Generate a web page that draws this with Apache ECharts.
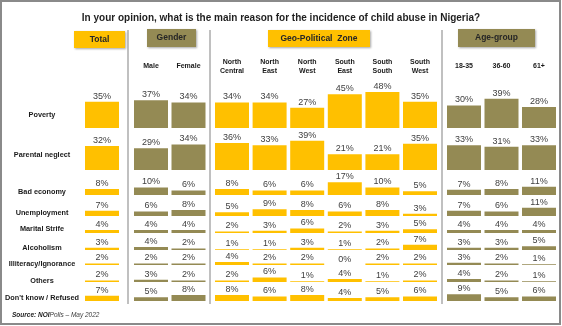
<!DOCTYPE html>
<html>
<head>
<meta charset="utf-8">
<script src="https://cdn.jsdelivr.net/npm/echarts@6/dist/echarts.min.js"></script>
<style>
  html, body { margin: 0; padding: 0; background: #ffffff; }
  #chart { width: 562px; height: 326px; }
</style>
</head>
<body>
<div id="chart"></div>
<script>
// Survey answers (% of respondents) for each reason, by segment
const reasons = ['Poverty', 'Parental neglect', 'Bad economy', 'Unemployment', 'Marital Strife',
  'Alcoholism', 'Illiteracy/Ignorance', 'Others', "Don't know / Refused"];

const total        = [35, 32, 8, 7, 4, 3, 2, 2, 7];
const male         = [37, 29, 10, 6, 4, 4, 2, 3, 5];
const female       = [34, 34, 6, 8, 4, 2, 2, 2, 8];
const northCentral = [34, 36, 8, 5, 2, 1, 4, 2, 8];
const northEast    = [34, 33, 6, 9, 3, 1, 2, 6, 6];
const northWest    = [27, 39, 6, 8, 6, 3, 2, 1, 8];
const southEast    = [45, 21, 17, 6, 2, 1, 0, 4, 4];
const southSouth   = [48, 21, 10, 8, 3, 2, 2, 1, 5];
const southWest    = [35, 35, 5, 3, 5, 7, 2, 2, 6];
const age18to35    = [30, 33, 7, 7, 4, 3, 3, 4, 9];
const age36to60    = [39, 31, 8, 6, 4, 3, 2, 2, 5];
const age61plus    = [28, 33, 11, 11, 4, 5, 1, 1, 6];

const groupTitles = ['Total', 'Gender', 'Geo-Political  Zone', 'Age-group'];
const totalCols  = ['Total'];
const genderCols = ['Male', 'Female'];
const zoneCols   = ['North\nCentral', 'North\nEast', 'North\nWest', 'South\nEast', 'South\nSouth', 'South\nWest'];
const ageCols    = ['18-35', '36-60', '61+'];

// ---- layout & styling ----
const GOLD = '#FFC000';
const OLIVE = '#948A54';
const FONT = 'Liberation Sans, Arial, sans-serif';
const PX_PER_PCT = 0.75;
const Y_MAX = 50;
const rowBase = [128, 170, 195, 216, 233, 250, 265, 282, 301];
const rowLabelY = [115, 155, 192, 213, 229, 248, 264, 281, 298];

const groups = [
  { title: groupTitles[0], cols: totalCols, values: [total], color: GOLD, left: 83, width: 38, showHeader: false,
    box: { x: 74, y: 31, w: 51, h: 17 } },
  { title: groupTitles[1], cols: genderCols, values: [male, female], color: OLIVE, left: 132.25, width: 75, showHeader: true,
    box: { x: 147, y: 29, w: 49, h: 18 } },
  { title: groupTitles[2], cols: zoneCols,
    values: [northCentral, northEast, northWest, southEast, southSouth, southWest],
    color: GOLD, left: 213.2, width: 225.6, showHeader: true,
    box: { x: 268, y: 30, w: 102, h: 17 } },
  { title: groupTitles[3], cols: ageCols, values: [age18to35, age36to60, age61plus], color: OLIVE,
    left: 445.25, width: 112.5, showHeader: true,
    box: { x: 458, y: 29, w: 77, h: 18 } }
];

const grid = [], xAxis = [], yAxis = [], series = [];
const gridH = Y_MAX * PX_PER_PCT;

reasons.forEach((reason, r) => {
  groups.forEach((g) => {
    const idx = grid.length;
    grid.push({ left: g.left, width: g.width, top: rowBase[r] - gridH, height: gridH, containLabel: false });
    const header = r === 0 && g.showHeader;
    xAxis.push({
      type: 'category', gridIndex: idx, data: g.cols, position: 'top',
      show: header,
      axisLine: { show: false }, axisTick: { show: false },
      axisLabel: {
        show: header, interval: 0, margin: 24, verticalAlign: 'middle',
        fontFamily: FONT, fontSize: 7, fontWeight: 'bold', color: '#1a1a1a', lineHeight: 9.5
      }
    });
    yAxis.push({ type: 'value', gridIndex: idx, min: 0, max: Y_MAX, show: false });
    series.push({
      type: 'bar', xAxisIndex: idx, yAxisIndex: idx,
      name: reason,
      data: g.values.map(v => v[r]),
      barWidth: 34,
      itemStyle: { color: g.color },
      label: {
        show: true, position: 'top', distance: 1,
        formatter: '{c}%', fontFamily: FONT, fontSize: 9, color: '#404040'
      },
      silent: true, animation: false
    });
  });
});

const graphic = [];
// outer frame
graphic.push({ type: 'rect', shape: { x: 1, y: 1, width: 559, height: 323 },
  style: { fill: 'none', stroke: '#8a8a8a', lineWidth: 2 }, silent: true });
// vertical separators between segment groups
[128, 210, 442].forEach(x => graphic.push({
  type: 'line', shape: { x1: x, y1: 30, x2: x, y2: 304 },
  style: { stroke: '#c0c0c0', lineWidth: 2 }, silent: true
}));
// group header boxes
groups.forEach(g => {
  graphic.push({
    type: 'rect', shape: { x: g.box.x, y: g.box.y, width: g.box.w, height: g.box.h },
    style: { fill: g.color, shadowBlur: 2, shadowOffsetX: 1, shadowOffsetY: 1, shadowColor: 'rgba(0,0,0,0.35)' },
    silent: true
  });
  graphic.push({
    type: 'text', x: g.box.x + g.box.w / 2, y: g.box.y + g.box.h / 2,
    style: { text: g.title, fontFamily: FONT, fontSize: 8.5, fontWeight: 'bold', fill: '#262626',
      align: 'center', verticalAlign: 'middle' }, silent: true
  });
});
// row labels
reasons.forEach((reason, r) => graphic.push({
  type: 'text', x: 42, y: rowLabelY[r],
  style: { text: reason, fontFamily: FONT, fontSize: 7.3, fontWeight: 'bold', fill: '#1a1a1a',
    align: 'center', verticalAlign: 'middle' }, silent: true
}));
// source note
graphic.push({
  type: 'text', x: 12, y: 315,
  style: {
    text: '{b|Source: NOI}{i|Polls – May 2022}',
    verticalAlign: 'middle',
    rich: {
      b: { fontFamily: FONT, fontSize: 6.5, fontStyle: 'italic', fontWeight: 'bold', fill: '#1a1a1a' },
      i: { fontFamily: FONT, fontSize: 6.5, fontStyle: 'italic', fill: '#404040' }
    }
  }, silent: true
});

const chart = echarts.init(document.getElementById('chart'), null, { renderer: 'canvas' });
chart.setOption({
  animation: false,
  backgroundColor: '#ffffff',
  title: {
    text: 'In your opinion, what is the main reason for the incidence of child abuse in Nigeria?',
    left: 'center', top: 8,
    textStyle: { fontFamily: FONT, fontSize: 10, fontWeight: 'bold', color: '#1f1f1f' }
  },
  grid, xAxis, yAxis, series, graphic
});
</script>
</body>
</html>
